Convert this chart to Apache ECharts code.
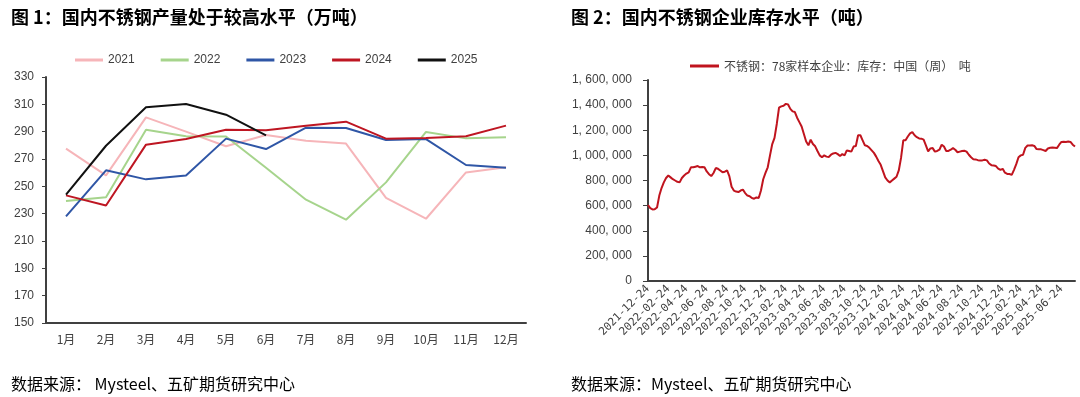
<!DOCTYPE html>
<html>
<head>
    <meta charset="utf-8">
    <script src="https://cdn.jsdelivr.net/npm/echarts@6/dist/echarts.min.js"></script>
    <style>
        html, body { margin: 0; padding: 0; background: #fff; }
        #main { width: 1080px; height: 397px; }
    </style>
</head>
<body>
<div id="main"></div>
<script type="text/javascript">
    // 图1 月度产量（万吨）
    var months = ['1月', '2月', '3月', '4月', '5月', '6月', '7月', '8月', '9月', '10月', '11月', '12月'];
    var prod2021 = [277.6, 258, 300.5, 290, 279.3, 287.5, 283.4, 281.3, 241.5, 226.3, 260.2, 263.9];
    var prod2022 = [239.3, 242, 291.4, 286.6, 286.5, 263.6, 240.2, 225.6, 252.9, 289.8, 285.1, 286];
    var prod2023 = [228, 261.7, 255.1, 258, 284.9, 277.3, 292.9, 292.7, 283.9, 284.6, 265.6, 263.6];
    var prod2024 = [243.4, 236, 280.5, 284.6, 291.4, 291, 294.4, 297.3, 284.9, 285.4, 286.6, 294.4];
    var prod2025 = [243.9, 279.7, 307.8, 310.2, 302.4, 287.3];
    var prodTicks = [150, 170, 190, 210, 230, 250, 270, 290, 310, 330];

    // 图2 周度库存（吨），起始 2021-12-24
    var stockStart = '2021-12-24';
    var stock = [
        605000, 580000, 570000, 572000, 585000, 680000, 740000, 785000, 820000, 840000,
        825000, 810000, 800000, 790000, 785000, 820000, 840000, 855000, 865000, 905000,
        905000, 910000, 915000, 905000, 907000, 905000, 872000, 850000, 835000, 860000,
        899000, 893000, 880000, 865000, 870000, 880000, 835000, 750000, 720000, 712000,
        708000, 720000, 727000, 700000, 680000, 675000, 660000, 655000, 665000, 660000,
        720000, 810000, 860000, 905000, 1000000, 1090000, 1140000, 1250000, 1380000, 1390000,
        1395000, 1410000, 1405000, 1370000, 1350000, 1345000, 1300000, 1265000, 1230000, 1170000,
        1110000, 1080000, 1125000, 1090000, 1072000, 1035000, 1000000, 985000, 1000000, 990000,
        987000, 1005000, 1015000, 1020000, 1010000, 995000, 1010000, 1000000, 1040000, 1035000,
        1030000, 1070000, 1075000, 1160000, 1160000, 1120000, 1080000, 1075000, 1060000, 1040000,
        1020000, 990000, 955000, 925000, 875000, 825000, 800000, 785000, 800000, 815000,
        830000, 880000, 980000, 1120000, 1120000, 1150000, 1175000, 1185000, 1160000, 1145000,
        1135000, 1133000, 1125000, 1080000, 1032000, 1055000, 1058000, 1030000, 1035000, 1045000,
        1085000, 1070000, 1035000, 1035000, 1045000, 1058000, 1045000, 1025000, 1030000, 1035000,
        1037000, 1030000, 1005000, 985000, 970000, 968000, 962000, 960000, 960000, 965000,
        960000, 935000, 922000, 920000, 915000, 895000, 885000, 893000, 862000, 852000,
        852000, 845000, 885000, 930000, 985000, 1000000, 1005000, 1060000, 1078000, 1078000,
        1080000, 1075000, 1050000, 1048000, 1048000, 1042000, 1035000, 1055000, 1060000, 1062000,
        1060000, 1058000, 1085000, 1107000, 1108000, 1107000, 1110000, 1107000, 1085000, 1070000
    ];
    var stockDateTicks = ['2021-12-24', '2022-02-24', '2022-04-24', '2022-06-24', '2022-08-24', '2022-10-24',
        '2022-12-24', '2023-02-24', '2023-04-24', '2023-06-24', '2023-08-24', '2023-10-24', '2023-12-24',
        '2024-02-24', '2024-04-24', '2024-06-24', '2024-08-24', '2024-10-24', '2024-12-24',
        '2025-02-24', '2025-04-24', '2025-06-24'];

    var cnFont = '"Noto Sans CJK SC", sans-serif';
    var numFont = '"Liberation Sans", Arial, sans-serif';
    var axisColor = '#404040';

    // 周度日期
    var dayMs = 24 * 3600 * 1000;
    var t0 = Date.parse(stockStart + 'T00:00:00Z');
    function fmtDate(t) {
        return new Date(t).toISOString().slice(0, 10);
    }
    var stockDates = [];
    for (var i = 0; i < stock.length; i++) {
        stockDates.push(fmtDate(t0 + i * 7 * dayMs));
    }
    // 刻度标签放在离该日期最近的一周
    var tickAt = {};
    stockDateTicks.forEach(function (d) {
        var idx = Math.round((Date.parse(d + 'T00:00:00Z') - t0) / dayMs / 7);
        tickAt[idx] = d;
    });

    function thousands(v) {
        return String(v).replace(/\B(?=(\d{3})+(?!\d))/g, ', ');
    }

    var chart = echarts.init(document.getElementById('main'));
    var lineSeries = function (name, data, color) {
        return {
            name: name, type: 'line', data: data, symbol: 'none',
            xAxisIndex: 0, yAxisIndex: 0,
            lineStyle: {color: color, width: 2}, itemStyle: {color: color}
        };
    };

    var option = {
        animation: false,
        backgroundColor: '#fff',
        title: [
            {text: '图 1：国内不锈钢产量处于较高水平（万吨）', left: 6, top: 3,
                textStyle: {fontFamily: cnFont, fontSize: 18, fontWeight: 'bold', color: '#000'}},
            {text: '图 2：国内不锈钢企业库存水平（吨）', left: 566, top: 3,
                textStyle: {fontFamily: cnFont, fontSize: 18, fontWeight: 'bold', color: '#000'}},
            {text: '数据来源： Mysteel、五矿期货研究中心', left: 6, top: 371,
                textStyle: {fontFamily: cnFont, fontSize: 16, fontWeight: 'normal', color: '#000'}},
            {text: '数据来源：Mysteel、五矿期货研究中心', left: 566, top: 371,
                textStyle: {fontFamily: cnFont, fontSize: 16, fontWeight: 'normal', color: '#000'}}
        ],
        legend: [
            {data: ['2021', '2022', '2023', '2024', '2025'], left: 70, top: 49,
                icon: 'rect', itemWidth: 28, itemHeight: 3, itemGap: 26,
                textStyle: {fontFamily: numFont, fontSize: 12, color: '#404040'}},
            {data: ['不锈钢：78家样本企业：库存：中国（周）  吨'], left: 685, top: 55,
                icon: 'rect', itemWidth: 29, itemHeight: 3, itemGap: 4,
                textStyle: {fontFamily: cnFont, fontSize: 12, color: '#404040'}}
        ],
        grid: [
            {left: 46, right: 554, top: 77, bottom: 74},
            {left: 648, right: 5, top: 80, bottom: 116}
        ],
        xAxis: [
            {gridIndex: 0, type: 'category', data: months, boundaryGap: true,
                axisLine: {lineStyle: {color: axisColor, width: 2}},
                axisTick: {show: false},
                axisLabel: {fontFamily: cnFont, fontSize: 12, color: '#404040', margin: 10, interval: 0}},
            {gridIndex: 1, type: 'category', data: stockDates, boundaryGap: false,
                axisLine: {lineStyle: {color: axisColor, width: 2}},
                axisTick: {show: false},
                axisLabel: {
                    fontFamily: '"DejaVu Sans Mono", monospace', fontSize: 11, color: '#404040',
                    rotate: 45, margin: 6,
                    interval: function (idx) { return tickAt.hasOwnProperty(idx); },
                    formatter: function (v, idx) { return tickAt[idx] || ''; }
                }}
        ],
        yAxis: [
            {gridIndex: 0, type: 'value', min: 150, max: 330,
                axisLine: {show: true, lineStyle: {color: axisColor, width: 2}},
                axisTick: {show: true, length: 4, customValues: prodTicks, lineStyle: {color: axisColor}},
                axisLabel: {customValues: prodTicks, fontFamily: numFont, fontSize: 12, color: '#404040', margin: 12},
                splitLine: {show: false}},
            {gridIndex: 1, type: 'value', min: 0, max: 1600000, interval: 200000,
                axisLine: {show: true, lineStyle: {color: axisColor, width: 2}},
                axisTick: {show: true, length: 5, lineStyle: {color: axisColor}},
                axisLabel: {fontFamily: numFont, fontSize: 12, color: '#404040', margin: 16,
                    formatter: function (v) { return thousands(v); }},
                splitLine: {show: false}}
        ],
        series: [
            lineSeries('2021', prod2021, '#F6B5B9'),
            lineSeries('2022', prod2022, '#A6D48C'),
            lineSeries('2023', prod2023, '#2F56A6'),
            lineSeries('2024', prod2024, '#BE1622'),
            lineSeries('2025', prod2025, '#111111'),
            {
                name: '不锈钢：78家样本企业：库存：中国（周）  吨', type: 'line', data: stock,
                xAxisIndex: 1, yAxisIndex: 1, symbol: 'none',
                lineStyle: {color: '#C0141E', width: 2}, itemStyle: {color: '#C0141E'}
            }
        ]
    };
    chart.setOption(option);
</script>
</body>
</html>
